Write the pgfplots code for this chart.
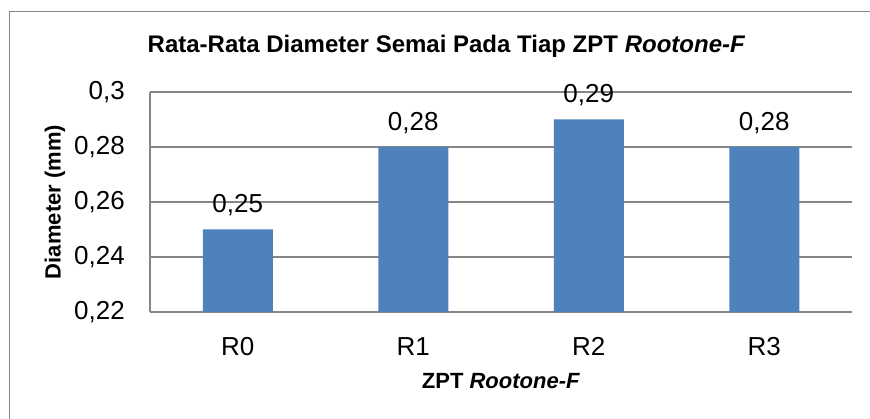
\documentclass[border=0pt]{standalone}
\usepackage{fontspec}
\setmainfont{Liberation Sans}
\usepackage{pgfplots}
\pgfplotsset{compat=1.18}
\definecolor{barblue}{RGB}{79,129,189}
\definecolor{linegray}{RGB}{134,134,134}

\begin{document}
\begin{tikzpicture}[x=1pt,y=1pt]
\useasboundingbox (0,0) rectangle (870,419);
% frame of the chart area (cut at right and bottom)
\draw[linegray, line width=1.3pt] (9.3,-5) -- (9.3,407.5) -- (875,407.5);
\node[font=\fontsize{24}{28}\selectfont\bfseries] at (446.5,373)
  {Rata-Rata Diameter Semai Pada Tiap ZPT \textit{Rootone-F}};
\begin{axis}[
  at={(150pt,107pt)}, anchor=south west,
  scale only axis,
  width=702pt, height=220pt,
  ybar, bar width=70pt,
  xmin=-0.5, xmax=3.5,
  ymin=0.22, ymax=0.3,
  ytick={0.22,0.24,0.26,0.28,0.3},
  xtick=data,
  xticklabels={R0,R1,R2,R3},
  axis lines*=left,
  axis line style={linegray, line width=1.3pt, -},
  ymajorgrids,
  grid style={linegray, line width=1.3pt},
  major tick length=0pt,
  /pgf/number format/assume math mode=true,
  /pgf/number format/use comma,
  /pgf/number format/fixed,
  /pgf/number format/precision=2,
  ticklabel style={font=\fontsize{26}{30}\selectfont, inner sep=0pt},
  yticklabel style={xshift=-25pt},
  xticklabel style={yshift=-25pt},
  xlabel={\textbf{ZPT \textit{Rootone-F}}},
  ylabel={\textbf{Diameter (mm)}},
  label style={font=\fontsize{22}{26}\selectfont},
  xlabel style={at={(axis description cs:0.5,-0.277)}, anchor=north, inner sep=0pt},
  ylabel style={at={(axis description cs:-0.1353,0.5)}, anchor=center, rotate=0, inner sep=0pt},
  nodes near coords,
  every node near coord/.append style={font=\fontsize{26}{30}\selectfont, inner sep=0pt, yshift=13pt, black},
  clip=false,
]
\addplot[fill=barblue, draw=none] coordinates {(0,0.25) (1,0.28) (2,0.29) (3,0.28)};
\end{axis}
\end{tikzpicture}
\end{document}
